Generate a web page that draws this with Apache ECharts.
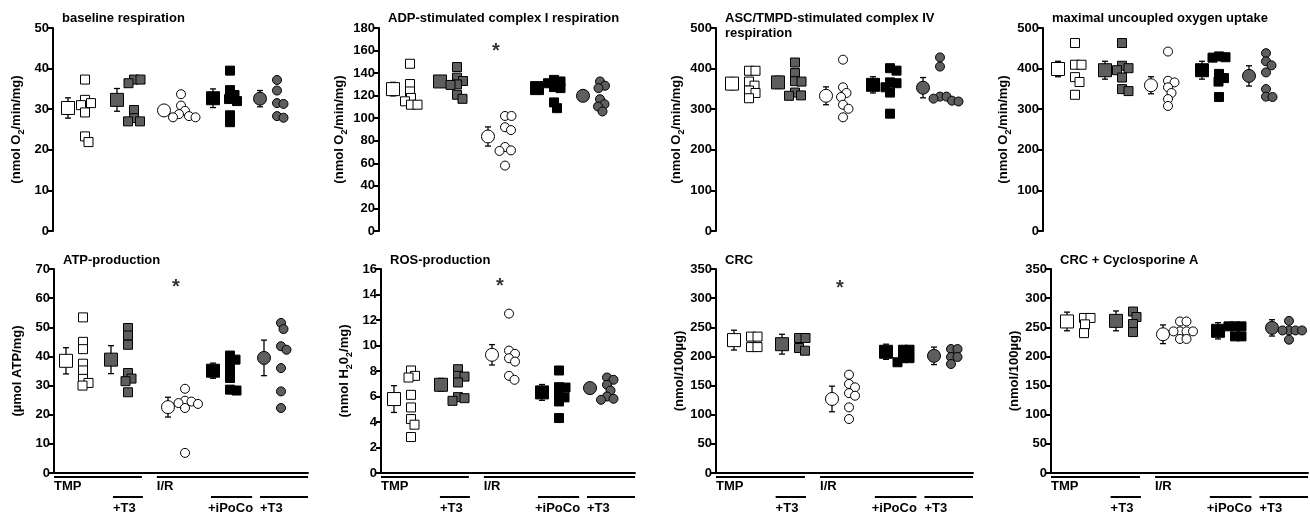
<!DOCTYPE html>
<html><head><meta charset="utf-8">
<script src="https://cdn.jsdelivr.net/npm/echarts@6/dist/echarts.min.js"></script>
<style>html,body{margin:0;padding:0;background:#fff}#c{width:1310px;height:514px}</style>
</head><body><div id="c"></div>
<script>
// ---------------- DATA ----------------
const groupNames = ['TMP', 'TMP+T3', 'I/R', 'I/R+iPoCo', 'I/R+T3'];
const bracketLabels = ['TMP', 'I/R'];
const subLabels = ['+T3', '+iPoCo', '+T3'];

const panelTitles = ['baseline respiration', 'ADP-stimulated complex I respiration',
  'ASC/TMPD-stimulated complex IV\nrespiration', 'maximal uncoupled oxygen uptake',
  'ATP-production', 'ROS-production', 'CRC', 'CRC + Cyclosporine A'];
const yNames = ['{n|(nmol O}{s|2}{n|/min/mg)}', '{n|(nmol O}{s|2}{n|/min/mg)}',
  '{n|(nmol O}{s|2}{n|/min/mg)}', '{n|(nmol O}{s|2}{n|/min/mg)}',
  '{n|(µmol ATP/mg)}', '{n|(nmol H}{s|2}{n|0}{s|2}{n|/mg)}',
  '{n|(nmol/100µg)}', '{n|(nmol/100µg)}'];
const yMaxes = [50, 180, 500, 500, 70, 16, 350, 350];
const yTicks = [10, 20, 100, 100, 10, 2, 50, 50];
const starValues = [null, 164, null, null, 65.5, 15, 326, null];

const baselineMean = [30.3, 32.3, 29.7, 32.7, 32.6];
const baselineSEM = [2.5, 2.8, 1.1, 2.3, 2.0];
const baselinePoints = [
  [37.3, 32.3, 31.5, 31.0, 29.2, 23.3, 21.9],
  [37.3, 37.3, 36.4, 29.8, 27.8, 27.0, 27.0],
  [33.7, 30.9, 29.6, 28.8, 28.3, 28.0, 28.0],
  [39.5, 34.7, 33.5, 32.5, 32.0, 28.5, 26.8],
  [37.2, 34.6, 31.5, 31.3, 28.3, 27.9]];

const adpMean = [125.8, 132.6, 83.8, 126.7, 119.9];
const adpSEM = [6, 4, 8.5, 4, 3];
const adpPoints = [
  [148.3, 130.3, 123.7, 118, 115, 112, 112],
  [145.4, 136, 133, 130, 129.5, 120.8, 117.2],
  [102, 102, 92, 89.5, 74.5, 71.5, 71, 58],
  [134, 132.6, 131, 127.6, 126.7, 114, 108.9],
  [132.6, 128.8, 126.7, 116.9, 112.5, 110.4, 106]];

const ascMean = [363, 366, 333, 360, 353];
const ascSEM = [15, 15, 22, 20, 25];
const ascPoints = [
  [394.7, 394.7, 368, 358, 346, 340, 327],
  [415, 389, 369, 368, 341, 334, 333],
  [422, 354, 340, 330, 311, 301, 280],
  [401, 395, 366, 364, 354, 341, 289],
  [427.6, 405, 331, 331, 326, 321, 319]];

const maxMean = [399, 396, 359, 396, 382];
const maxSEM = [19, 22, 21, 22, 25];
const maxPoints = [
  [463, 409.5, 409.5, 379, 367, 335.5],
  [463, 407, 401, 396, 378, 349.5, 344.6],
  [442, 370, 366, 354, 340, 325, 308],
  [430, 428, 427, 387, 376.6, 368, 330],
  [438, 418, 408, 390.6, 349.5, 331, 330]];

const atpMean = [38.5, 38.9, 22.6, 35.1, 39.5];
const atpSEM = [4.5, 4.8, 3.4, 2.6, 6.1];
const atpPoints = [
  [53.4, 45, 42.5, 37.5, 35.2, 32.3, 30.9, 30],
  [49.75, 47.2, 44, 34.3, 32.4, 31.5, 27.7],
  [28.9, 24.8, 24.5, 24, 23.7, 22.3, 6.9],
  [40.3, 38.9, 37.7, 35.1, 32.6, 28.6, 28.3],
  [51.5, 49.4, 43.5, 42.3, 36, 28, 22.3]];

const rosMean = [5.8, 6.92, 9.27, 6.32, 6.66];
const rosSEM = [1.05, 0.5, 0.8, 0.62, 0.2];
const rosPoints = [
  [8.04, 7.62, 7.49, 6.13, 5.14, 4.23, 3.79, 2.82],
  [8.14, 7.62, 7.56, 7.1, 5.95, 5.87, 5.66],
  [12.5, 9.6, 9.35, 9.0, 8.74, 7.62, 7.31],
  [8.04, 6.73, 6.7, 6.21, 5.93, 5.61, 4.31],
  [7.49, 7.31, 6.92, 6.47, 6.0, 5.82, 5.74]];

const crcMean = [228, 221, 127, 208, 201];
const crcSEM = [17, 17, 22, 13, 15];
const crcPoints = [
  [234, 234, 216, 216],
  [231.6, 231.6, 214.4, 209.8],
  [168.7, 152.7, 147, 137, 132.6, 112.6, 92.6],
  [211.5, 211.5, 197, 197, 190],
  [212.7, 212.7, 199, 199, 187]];

const csaMean = [260, 261, 238, 244, 249];
const csaSEM = [16, 17, 16, 14, 14];
const csaPoints = [
  [266, 266, 255, 240],
  [277, 267.6, 255.6, 241.8],
  [260, 260, 243, 243, 243, 243, 230, 230],
  [251.6, 251.6, 251.6, 234.4, 234.4],
  [261, 244.6, 244.6, 244.6, 244.6, 228.7]];

const allMeans = [baselineMean, adpMean, ascMean, maxMean, atpMean, rosMean, crcMean, csaMean];
const allSEMs = [baselineSEM, adpSEM, ascSEM, maxSEM, atpSEM, rosSEM, crcSEM, csaSEM];
const allPoints = [baselinePoints, adpPoints, ascPoints, maxPoints, atpPoints, rosPoints, crcPoints, csaPoints];

// ---------------- LAYOUT / STYLE ----------------
const layout = [
  {left: 53, top: 28, width: 255, height: 203, pos: [15, 64, 111, 160, 207]},
  {left: 379, top: 28, width: 255, height: 203, pos: [14, 61, 109, 158, 204]},
  {left: 716, top: 28, width: 255, height: 203, pos: [16, 62, 110, 157, 207]},
  {left: 1043, top: 28, width: 255, height: 203, pos: [15, 62, 108, 159, 206]},
  {left: 54, top: 269, width: 254, height: 204, pos: [12, 57, 114, 159, 210]},
  {left: 381, top: 269, width: 254, height: 204, pos: [13, 60, 111, 161, 209]},
  {left: 716, top: 269, width: 257, height: 204, pos: [18, 66, 116, 170, 218]},
  {left: 1051, top: 269, width: 257, height: 204, pos: [16, 65, 112, 167, 221]}
];
const GREY = '#5e5e5e';
const groupStyle = [
  {symbol: 'rect', fill: '#ffffff'},
  {symbol: 'rect', fill: GREY},
  {symbol: 'circle', fill: '#ffffff'},
  {symbol: 'rect', fill: '#000000'},
  {symbol: 'circle', fill: GREY}
];
const FONT = '"Liberation Sans", Arial, Helvetica, sans-serif';

function swarm(values, ppu, size) {
  const placed = [], out = [];
  const d = size * 0.72;
  values.forEach(v => {
    const y = v * ppu;
    let chosen = 0;
    for (let k = 0; k < 600; k++) {
      const m = Math.ceil(k / 2) * 0.5;
      const dx = k === 0 ? 0 : (k % 2 ? m : -m);
      if (dx < -size * 0.9) continue;
      if (placed.every(p => (p.x - dx) ** 2 + (p.y - y) ** 2 >= d * d)) { chosen = dx; break; }
    }
    placed.push({x: chosen, y});
    out.push(chosen);
  });
  return out;
}

const grids = [], xAxes = [], yAxes = [], series = [], titles = [], graphics = [];

layout.forEach((L, i) => {
  const bottomRow = i >= 4;
  grids.push({left: L.left, top: L.top, width: L.width, height: L.height, containLabel: false});
  xAxes.push({
    gridIndex: i, type: 'value', min: 0, max: L.width,
    show: bottomRow,
    axisLine: {show: bottomRow, onZero: false, lineStyle: {color: '#000', width: 2}},
    axisTick: {show: false}, axisLabel: {show: false}, splitLine: {show: false}
  });
  yAxes.push({
    gridIndex: i, type: 'value', min: 0, max: yMaxes[i], interval: yTicks[i],
    axisLine: {show: true, lineStyle: {color: '#000', width: 2}},
    axisTick: {show: true, length: 5, lineStyle: {color: '#000', width: 2}},
    axisLabel: {color: '#000', fontWeight: 'bold', fontSize: 13, fontFamily: FONT, margin: 4},
    splitLine: {show: false},
    name: yNames[i], nameLocation: 'middle', nameGap: 27, nameRotate: 90,
    nameTextStyle: {
      color: '#000', fontFamily: FONT,
      rich: {
        n: {fontSize: 13, fontWeight: 'bold', lineHeight: 16, verticalAlign: 'top', fontFamily: FONT, color: '#000'},
        s: {fontSize: 9, fontWeight: 'bold', lineHeight: 9, verticalAlign: 'bottom', fontFamily: FONT, color: '#000'}
      }
    }
  });
  titles.push({
    text: panelTitles[i], left: L.left + 9, top: bottomRow ? 253 : 11, padding: 0,
    textStyle: {fontSize: 13, fontWeight: 'bold', color: '#000', fontFamily: FONT, lineHeight: 15}
  });

  const means = allMeans[i], sems = allSEMs[i], pts = allPoints[i];
  const ppu = L.height / yMaxes[i];
  const indSize = 9;

  series.push({
    type: 'custom', xAxisIndex: i, yAxisIndex: i, z: 2, silent: true,
    data: means.map((m, j) => [L.pos[j], m - sems[j], m + sems[j]]),
    renderItem: (params, api) => {
      const x = api.value(0), lo = api.value(1), hi = api.value(2);
      const p1 = api.coord([x, hi]), p2 = api.coord([x, lo]);
      const cap = 3, st = {stroke: '#000', lineWidth: 1.3};
      return {type: 'group', children: [
        {type: 'line', shape: {x1: p1[0], y1: p1[1], x2: p2[0], y2: p2[1]}, style: st},
        {type: 'line', shape: {x1: p1[0] - cap, y1: p1[1], x2: p1[0] + cap, y2: p1[1]}, style: st},
        {type: 'line', shape: {x1: p2[0] - cap, y1: p2[1], x2: p2[0] + cap, y2: p2[1]}, style: st}
      ]};
    }
  });
  series.push({
    type: 'scatter', xAxisIndex: i, yAxisIndex: i, z: 3, silent: true,
    data: means.map((m, j) => ({
      value: [L.pos[j], m], symbol: groupStyle[j].symbol, symbolSize: 13,
      itemStyle: {color: groupStyle[j].fill, borderColor: '#000', borderWidth: 1, opacity: 1}
    }))
  });
  const ind = [];
  pts.forEach((vals, j) => {
    const offs = swarm(vals, ppu, indSize);
    vals.forEach((v, k) => ind.push({
      value: [L.pos[j] + 17 + offs[k], v], symbol: groupStyle[j].symbol, symbolSize: indSize,
      itemStyle: {color: groupStyle[j].fill, borderColor: '#000', borderWidth: 1, opacity: 1}
    }));
  });
  series.push({type: 'scatter', xAxisIndex: i, yAxisIndex: i, z: 4, silent: true, data: ind});
  if (starValues[i] != null) {
    series.push({
      type: 'scatter', xAxisIndex: i, yAxisIndex: i, z: 5, silent: true,
      symbolSize: 1, itemStyle: {color: 'rgba(0,0,0,0)'},
      label: {show: true, position: 'inside', formatter: '*', fontSize: 20, fontWeight: 'bold',
        color: '#000', fontFamily: FONT, offset: [0, 5]},
      data: [[L.pos[2] + 8, starValues[i]]]
    });
  }

  if (bottomRow) {
    const x0 = L.left, w = L.width, yb = L.top + L.height;
    const ln = (a, b, y) => ({type: 'line', silent: true,
      shape: {x1: x0 + a * w, y1: y, x2: x0 + b * w, y2: y}, style: {stroke: '#000', lineWidth: 2}});
    const tx = (t, a, y) => ({type: 'text', silent: true, x: x0 + a * w, y: y,
      style: {text: t, fill: '#000', font: 'bold 13px ' + FONT, textVerticalAlign: 'middle', verticalAlign: 'middle'}});
    graphics.push(ln(0, 0.346, yb + 4), ln(0.405, 1, yb + 4));
    graphics.push(tx(bracketLabels[0], 0, yb + 13), tx(bracketLabels[1], 0.405, yb + 13));
    graphics.push(ln(0.232, 0.35, yb + 24), ln(0.618, 0.78, yb + 24), ln(0.811, 1, yb + 24));
    graphics.push(tx(subLabels[0], 0.232, yb + 35), tx(subLabels[1], 0.606, yb + 35), tx(subLabels[2], 0.811, yb + 35));
  }
});

const chart = echarts.init(document.getElementById('c'));
chart.setOption({
  animation: false,
  backgroundColor: '#fff',
  title: titles,
  grid: grids, xAxis: xAxes, yAxis: yAxes,
  series: series,
  graphic: graphics
});
</script>
</body></html>
